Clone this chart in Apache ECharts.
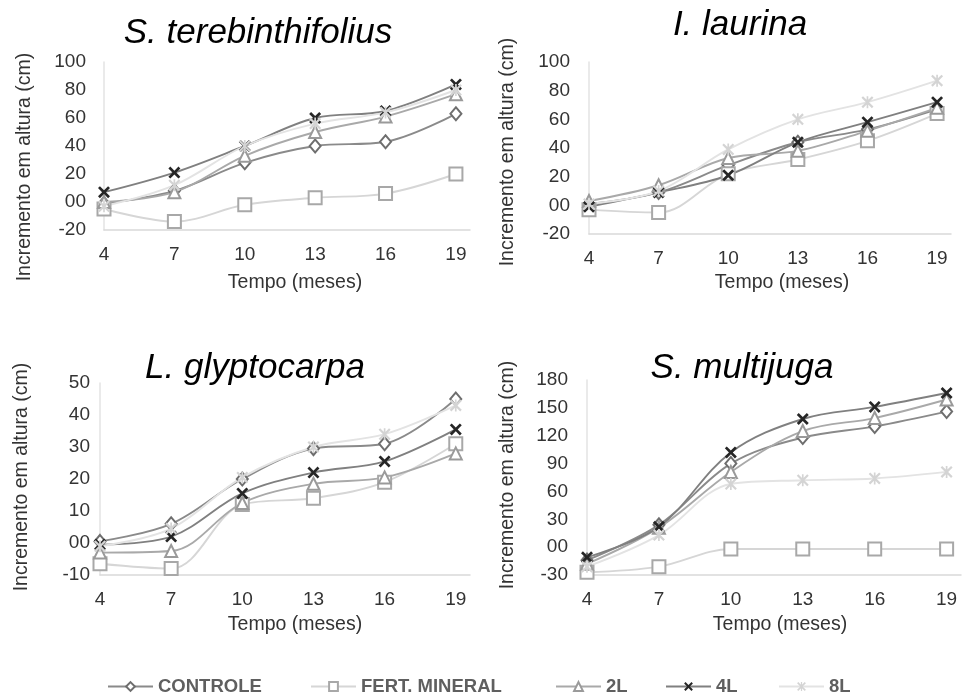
<!DOCTYPE html>
<html>
<head>
<meta charset="utf-8">
<script src="https://cdn.jsdelivr.net/npm/echarts@6/dist/echarts.min.js"></script>
<style>
  html, body { margin: 0; padding: 0; background: #fff; }
  #chart { width: 963px; height: 693px; }
</style>
</head>
<body>
<div id="chart"></div>
<script>
  // meses
  const months = [4, 7, 10, 13, 16, 19]
  const seriesNames = ['CONTROLE', 'FERT. MINERAL', '2L', '4L', '8L']
  const panelTitles = ['S. terebinthifolius', 'I. laurina', 'L. glyptocarpa', 'S. multijuga']

  // S. terebinthifolius
  const controle1 = [-1, 8, 28, 40, 43, 63]
  const fert1 = [-5, -14, -2, 3, 6, 20]
  const l2_1 = [0, 7, 33, 50, 61, 77]
  const l4_1 = [7, 21, 40, 60, 65, 84]
  const l8_1 = [-3, 12, 40, 56, 64, 80]

  // I. laurina
  const controle2 = [1, 9, 28, 44, 53, 67]
  const fert2 = [-3, -5, 22, 32, 45, 64]
  const l2_2 = [3, 14, 33, 38, 52, 68]
  const l4_2 = [-1, 9, 21, 44, 58, 72]
  const l8_2 = [1, 10, 39, 60, 72, 87]

  // L. glyptocarpa
  const controle3 = [0.5, 6, 20, 29.5, 31, 45]
  const fert3 = [-6.5, -8, 12, 14, 19, 31]
  const l2_3 = [-3, -2.5, 12.5, 18.5, 20.5, 28]
  const l4_3 = [-0.5, 2, 15.5, 22, 25.5, 35.5]
  const l8_3 = [-1, 4.5, 20.5, 30, 34, 43]

  // S. multijuga
  const controle4 = [-14, 24, 90, 118, 130, 146]
  const fert4 = [-27, -21, -2, -2, -2, -2]
  const l2_4 = [-18, 21, 81, 125, 139, 159]
  const l4_4 = [-11, 22, 102, 138, 151, 166]
  const l8_4 = [-21, 13, 68, 72, 74, 81]

  const panelData = [
    [controle1, fert1, l2_1, l4_1, l8_1],
    [controle2, fert2, l2_2, l4_2, l8_2],
    [controle3, fert3, l2_3, l4_3, l8_3],
    [controle4, fert4, l2_4, l4_4, l8_4],
  ]

  // y ticks: min, max, interval
  const yMin = [-20, -20, -10, -30]
  const yMax = [100, 100, 50, 180]
  const yStep = [20, 20, 10, 30]

  const FONT = 'Liberation Sans, Arial, sans-serif'
  const xPath = 'path://M0,0.16 L0.16,0 L0.5,0.34 L0.84,0 L1,0.16 L0.66,0.5 L1,0.84 L0.84,1 L0.5,0.66 L0.16,1 L0,0.84 L0.34,0.5 Z'
  const starPath = 'path://M0,0.13 L0.13,0 L0.5,0.37 L0.87,0 L1,0.13 L0.63,0.5 L1,0.87 L0.87,1 L0.5,0.63 L0.13,1 L0,0.87 L0.37,0.5 Z M0.43,0 L0.57,0 L0.57,1 L0.43,1 Z'

  const styles = [
    { symbol: 'diamond', size: [11, 13], line: '#8a8a8a', item: { color: '#fff', borderColor: '#6e6e6e', borderWidth: 2 } },
    { symbol: 'rect', size: 13, line: '#d6d6d6', item: { color: '#fff', borderColor: '#a8a8a8', borderWidth: 2 } },
    { symbol: 'triangle', size: 12, line: '#a9a9a9', item: { color: '#fff', borderColor: '#9a9a9a', borderWidth: 2 } },
    { symbol: xPath, size: 12, line: '#808080', item: { color: '#262626', borderWidth: 0 } },
    { symbol: starPath, size: 12, line: '#e3e3e3', item: { color: '#d4d4d4', borderWidth: 0 } },
  ]

  const grids = [
    { left: 104, top: 62, width: 366, height: 168 },
    { left: 589, top: 62, width: 362, height: 172 },
    { left: 100, top: 383, width: 370, height: 192 },
    { left: 587, top: 380, width: 374, height: 195 },
  ]
  const yLabelMargin = [18, 19, 10, 19]

  const titlePos = [[258, 33], [740, 25], [255, 368], [742, 368]]
  const yNamePos = [[25, 167], [508, 152], [22, 477], [508, 475]]
  const xNamePos = [[295, 283], [782, 283], [295, 625], [780, 625]]
  const legendLeft = [102, 305, 550, 660, 773]

  const series = []
  panelData.forEach((rows, p) => {
    rows.forEach((values, s) => {
      const st = styles[s]
      series.push({
        name: seriesNames[s],
        type: 'line',
        xAxisIndex: p,
        yAxisIndex: p,
        smooth: 0.35,
        symbol: st.symbol,
        symbolSize: st.size,
        showAllSymbol: true,
        lineStyle: { color: st.line, width: 1.9 },
        itemStyle: st.item,
        emphasis: { disabled: true },
        data: months.map((m, i) => [m, values[i]]),
      })
    })
  })

  const graphic = []
  panelTitles.forEach((t, p) => {
    graphic.push({
      type: 'text', x: titlePos[p][0], y: titlePos[p][1],
      style: { text: t, font: 'italic 35px ' + FONT, fill: '#000', textAlign: 'center', textVerticalAlign: 'middle', align: 'center', verticalAlign: 'middle' },
    })
    graphic.push({
      type: 'text', x: yNamePos[p][0], y: yNamePos[p][1], rotation: Math.PI / 2,
      style: { text: 'Incremento em altura (cm)', font: '19.5px ' + FONT, fill: '#333', textAlign: 'center', textVerticalAlign: 'middle', align: 'center', verticalAlign: 'middle' },
    })
    graphic.push({
      type: 'text', x: xNamePos[p][0], y: xNamePos[p][1],
      style: { text: 'Tempo (meses)', font: '19.5px ' + FONT, fill: '#333', textAlign: 'center', textVerticalAlign: 'middle', align: 'center', verticalAlign: 'middle' },
    })
  })

  const option = {
    animation: false,
    backgroundColor: '#fff',
    grid: grids,
    xAxis: grids.map((g, p) => ({
      type: 'value',
      gridIndex: p,
      min: 4,
      max: 19.6,
      interval: 3,
      axisLine: { show: true, onZero: false, lineStyle: { color: '#d9d9d9', width: 1.5 } },
      axisTick: { show: false },
      splitLine: { show: false },
      axisLabel: { showMaxLabel: false, margin: 15, fontSize: 19, fontFamily: FONT, color: '#333' },
    })),
    yAxis: grids.map((g, p) => ({
      type: 'value',
      gridIndex: p,
      min: yMin[p],
      max: yMax[p],
      interval: yStep[p],
      axisLine: { show: true, lineStyle: { color: '#e3e3e3', width: 1.5 } },
      axisTick: { show: false },
      splitLine: { show: false },
      axisLabel: {
        margin: yLabelMargin[p], fontSize: 19, fontFamily: FONT, color: '#333',
        formatter: v => (v === 0 ? '00' : String(v)),
      },
    })),
    legend: seriesNames.map((n, i) => ({
      data: [n],
      left: legendLeft[i],
      top: 672,
      itemWidth: 45,
      itemHeight: 11,
      itemGap: 5,
      selectedMode: false,
      textStyle: { fontSize: 18.5, fontWeight: 'bold', fontFamily: FONT, color: '#5f5f5f' },
    })),
    graphic: graphic,
    series: series,
  }

  const chart = echarts.init(document.getElementById('chart'), null, { renderer: 'canvas' })
  chart.setOption(option)
</script>
</body>
</html>
